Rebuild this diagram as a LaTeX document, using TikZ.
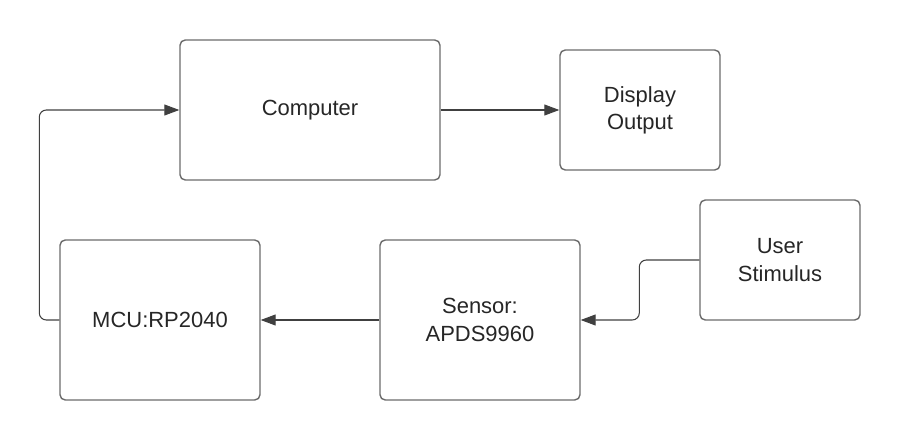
\documentclass[tikz,border=0pt]{standalone}
\usepackage{fontspec}
\setmainfont{Liberation Sans}
\usepackage{tikz}
\usetikzlibrary{positioning,arrows.meta}

\begin{document}
\begin{tikzpicture}[on grid, auto,
block/.style={draw=black!58, line width=0.8pt, rounded corners=3pt, align=center,
font=\fontsize{12.5}{15.5}\selectfont, text=black!85},
link/.style={draw=black!75, line width=0.6pt, rounded corners=4pt,
-{Triangle[length=0.3cm,width=0.22cm]}, color=black!75}]
\useasboundingbox (0,0) rectangle (18,-8.8);
\node [block, minimum width=5.2cm, minimum height=2.8cm] (comp) at (6.2,-2.2) {Computer};
\node [block, minimum width=3.2cm, minimum height=2.4cm] (disp) [right = 6.6cm of comp] {Display\\Output};
\node [block, minimum width=4cm, minimum height=3.2cm] (mcu) at (3.2,-6.4) {MCU:RP2040};
\node [block, minimum width=4cm, minimum height=3.2cm] (sens) [right = 6.4cm of mcu] {Sensor:\\APDS9960};
\node [block, minimum width=3.2cm, minimum height=2.4cm] (user) at (15.6,-5.2) {User\\Stimulus};
\draw [link] (comp) -- (disp);
\draw [link] (sens) -- (mcu);
\draw [link] (mcu.west) -- ++(-0.4,0) |- (comp.west);
\draw [link] (user.west) -- ++(-1.2,0) |- (sens.east);
\end{tikzpicture}
\end{document}
